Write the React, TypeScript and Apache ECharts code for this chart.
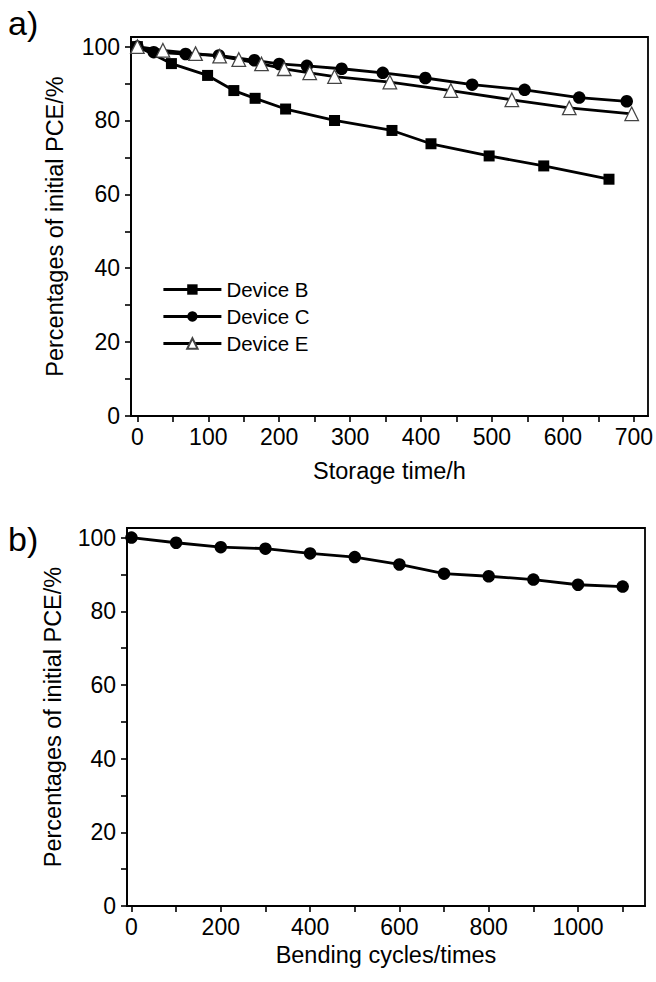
import React, { useEffect, useRef } from 'react';
import * as echarts from 'echarts';

// Panel a) storage stability
const timeB = [0, 48, 99, 136, 166, 209, 278, 359, 414, 496, 573, 665];
const pceB = [100, 95.4, 92.2, 88.1, 86.0, 83.1, 80.0, 77.3, 73.7, 70.4, 67.7, 64.1];
const timeC = [0, 23, 68, 115, 165, 200, 239, 288, 346, 406, 472, 546, 623, 690];
const pceC = [100, 98.5, 98.0, 97.6, 96.3, 95.3, 94.8, 94.0, 92.9, 91.5, 89.7, 88.3, 86.2, 85.2];
const timeE = [0, 36, 82, 116, 143, 175, 207, 243, 278, 356, 442, 528, 609, 697];
const pceE = [100, 99.0, 98.1, 97.4, 96.5, 95.3, 94.0, 92.9, 91.9, 90.4, 88.1, 85.6, 83.4, 81.8];

// Panel b) bending stability
const bendCycles = [0, 100, 200, 300, 400, 500, 600, 700, 800, 900, 1000, 1100];
const bendPce = [100, 98.6, 97.4, 97.0, 95.7, 94.7, 92.7, 90.2, 89.5, 88.6, 87.2, 86.7];

// Tick values
const timeTicks = [0, 100, 200, 300, 400, 500, 600, 700];
const timeMinor = [50, 150, 250, 350, 450, 550, 650];
const bendTicks = [0, 200, 400, 600, 800, 1000];
const bendMinor = [100, 300, 500, 700, 900, 1100];
const pceTicks = [0, 20, 40, 60, 80, 100];
const pceMinor = [10, 30, 50, 70, 90];

const FONT = 'Liberation Sans, Arial, Helvetica, sans-serif';
const zip = (xs: number[], ys: number[]) => xs.map((x, i) => [x, ys[i]]);
const sortNum = (a: number[]) => [...a].sort((p, q) => p - q);

export default function App() {
  const ref = useRef<HTMLDivElement>(null);
  useEffect(() => {
    if (!ref.current) return;
    const chart = echarts.init(ref.current, undefined, { renderer: 'svg' });
    const axisLine = { show: true, onZero: false, lineStyle: { color: '#000', width: 1.8 } };
    const labelStyle = { color: '#000', fontSize: 23, fontFamily: FONT };
    const nameStyle = { color: '#000', fontSize: 23.5, fontFamily: FONT };
    const tickStyle = { color: '#000', width: 1.6 };
    const xAxisDef = (grid: number, min: number, max: number, ticks: number[], minor: number[], name: string, gap: number) => ({
      gridIndex: grid, type: 'value', min, max,
      axisLine, splitLine: { show: false },
      axisTick: { show: true, customValues: sortNum([...ticks, ...minor]), length: 6, lineStyle: tickStyle },
      axisLabel: { show: true, customValues: ticks, margin: 9, formatter: (v: number) => String(v), ...labelStyle },
      name, nameLocation: 'middle', nameGap: gap, nameTextStyle: nameStyle,
    });
    const yAxisDef = (grid: number, gap: number) => ({
      gridIndex: grid, type: 'value', min: 0, max: 102.6,
      axisLine, splitLine: { show: false },
      axisTick: { show: true, customValues: sortNum([...pceTicks, ...pceMinor]), length: 6, lineStyle: tickStyle },
      axisLabel: { show: true, customValues: pceTicks, margin: 11, formatter: (v: number) => String(v), ...labelStyle },
      name: 'Percentages of initial PCE/%', nameLocation: 'middle', nameGap: gap, nameTextStyle: nameStyle,
    });
    const lineSeries = (name: string, data: number[][], symbol: string, size: number, xi: number, yi: number, white = false) => ({
      name, type: 'line', data, xAxisIndex: xi, yAxisIndex: yi,
      symbol, symbolSize: size, showAllSymbol: true,
      lineStyle: { color: '#000', width: 2.8 },
      itemStyle: white ? { color: '#fff', borderColor: '#444', borderWidth: 1.3 } : { color: '#000', borderWidth: 0 },
      z: 3,
    });
    chart.setOption({
      animation: false,
      backgroundColor: '#fff',
      grid: [
        { left: 131, top: 37, width: 517, height: 379, show: true, borderColor: '#000', borderWidth: 1.8, backgroundColor: 'transparent' },
        { left: 127, top: 528, width: 518, height: 378, show: true, borderColor: '#000', borderWidth: 1.8, backgroundColor: 'transparent' },
      ],
      xAxis: [
        xAxisDef(0, -9, 720, timeTicks, timeMinor, 'Storage time/h', 43),
        xAxisDef(1, -10, 1150, bendTicks, bendMinor, 'Bending cycles/times', 37),
      ],
      yAxis: [yAxisDef(0, 64), yAxisDef(1, 62)],
      legend: {
        orient: 'vertical', left: 157, top: 274, itemWidth: 58, itemHeight: 13, itemGap: 6,
        lineStyle: { width: 2.8, color: '#000' },
        textStyle: { color: '#000', fontSize: 20.5, fontFamily: FONT },
        data: ['Device B', 'Device C', 'Device E'],
      },
      graphic: [
        { type: 'text', left: 8, top: 6, style: { text: 'a)', fill: '#000', font: '34px ' + FONT } },
        { type: 'text', left: 8, top: 522, style: { text: 'b)', fill: '#000', font: '34px ' + FONT } },
      ],
      series: [
        lineSeries('Device B', zip(timeB, pceB), 'rect', 11, 0, 0),
        lineSeries('Device C', zip(timeC, pceC), 'circle', 12.5, 0, 0),
        lineSeries('Device E', zip(timeE, pceE), 'triangle', 13.5, 0, 0, true),
        lineSeries('Bending', zip(bendCycles, bendPce), 'circle', 12.5, 1, 1),
      ],
    });
    return () => chart.dispose();
  }, []);
  return <div ref={ref} style={{ position: 'fixed', left: 0, top: 0, width: 656, height: 982 }} />;
}
